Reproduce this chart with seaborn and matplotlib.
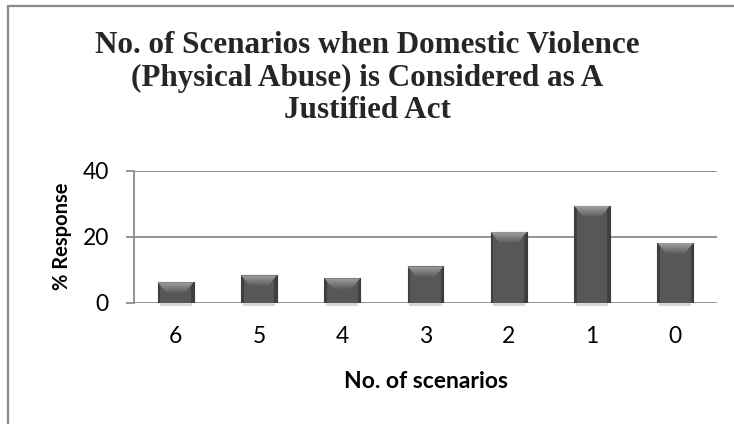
import numpy as np
import pandas as pd
import matplotlib
matplotlib.use("Agg")
import matplotlib.pyplot as plt
from matplotlib.patches import Polygon, Rectangle
from matplotlib.lines import Line2D
from matplotlib.colors import LinearSegmentedColormap
import seaborn as sns

# ---- data ----
categories = ["6", "5", "4", "3", "2", "1", "0"]
responses = [6.2, 8.3, 7.4, 11.0, 21.4, 29.4, 18.1]
y_ticks = [0, 20, 40]

title_text = "No. of Scenarios when Domestic Violence\n(Physical Abuse) is Considered as A\nJustified Act"
x_label = "No. of scenarios"
y_label = "% Response"

df = pd.DataFrame({"scenarios": categories, "response": responses})

sns.set_theme(style="white")
plt.rcParams["font.family"] = ["Lato", "DejaVu Sans"]

fig = plt.figure(figsize=(7.34, 4.24), dpi=100)
ax = fig.add_axes([134 / 734, 1 - 302.7 / 424, (717 - 134) / 734, (302.7 - 170.7) / 424])

grid_c = "#8c8c8c"
bar_c = "#575757"

sns.barplot(data=df, x="scenarios", y="response", order=categories, color=bar_c,
            width=0.43, saturation=1, edgecolor="#3a3a3a", linewidth=0.8, ax=ax, zorder=3)

ax.set_ylim(0, 40)
ax.set_xlim(-0.5, len(categories) - 0.5)
ax.set_yticks(y_ticks)
ax.set_yticklabels([str(t) for t in y_ticks])

for t in y_ticks:
    ax.axhline(t, color=grid_c, lw=1.3, zorder=1)

for s in ["top", "right", "bottom"]:
    ax.spines[s].set_visible(False)
ax.spines["left"].set_color(grid_c)
ax.spines["left"].set_linewidth(1.3)
ax.spines["left"].set_zorder(2)

ax.tick_params(axis="y", length=6, width=1.3, color=grid_c, pad=12, labelsize=16.5, labelcolor="black", left=True)
ax.tick_params(axis="x", length=0, pad=17, labelsize=16.5, labelcolor="black")

ax.set_xlabel(x_label, fontsize=16.5, fontweight="bold", labelpad=17, color="black")
ax.set_ylabel(y_label, fontsize=14.5, fontweight="bold", labelpad=8, color="black")

# ---- bevel decoration derived from each bar patch ----
px_per_unit_y = (302.7 - 170.7) / 40.0
px_per_unit_x = (717 - 134) / 7.0
bevel_d = 11.0 / px_per_unit_y
inset = 9.0 / px_per_unit_x
side = 2.5 / px_per_unit_x
grad = np.linspace(0, 1, 64).reshape(-1, 1)
cm_top = LinearSegmentedColormap.from_list("top", ["#5c5c5c", "#a0a0a0"])
for p in ax.patches:
    x0 = p.get_x(); w = p.get_width(); h = p.get_height()
    x1 = x0 + w
    ax.add_patch(Rectangle((x0, 0), side, h, color="#3f3f3f", lw=0, zorder=3.5))
    ax.add_patch(Rectangle((x1 - side, 0), side, h, color="#3f3f3f", lw=0, zorder=3.5))
    d = min(bevel_d, h * 0.55)
    poly = Polygon([(x0, h), (x1, h), (x1 - inset, h - d), (x0 + inset, h - d)],
                   closed=True, facecolor="none", edgecolor="none", zorder=4)
    ax.add_patch(poly)
    im = ax.imshow(grad, cmap=cm_top, extent=(x0, x1, h - d, h), origin="lower",
                   aspect="auto", zorder=4, interpolation="bilinear")
    im.set_clip_path(poly)
    ax.add_patch(Rectangle((x0 + w * 0.05, -0.9), w * 0.9, 0.9, color="#d8d8d8", lw=0,
                           zorder=2, clip_on=False))

ax.set_ylim(0, 40)
ax.set_xlim(-0.5, len(categories) - 0.5)

fig.text(367 / 734, 1 - 78 / 424, title_text, ha="center", va="center",
         fontsize=22.4, fontweight="bold", family=["Liberation Serif", "DejaVu Serif"],
         linespacing=1.15)

fig.add_artist(Line2D([8 / 734, 8 / 734], [0, 1 - 6 / 424], transform=fig.transFigure,
                      color="#8a8a8a", lw=1.6))
fig.add_artist(Line2D([8 / 734, 1], [1 - 6 / 424, 1 - 6 / 424], transform=fig.transFigure,
                      color="#8a8a8a", lw=1.6))

fig.savefig("out.png", dpi=100, facecolor="white")
